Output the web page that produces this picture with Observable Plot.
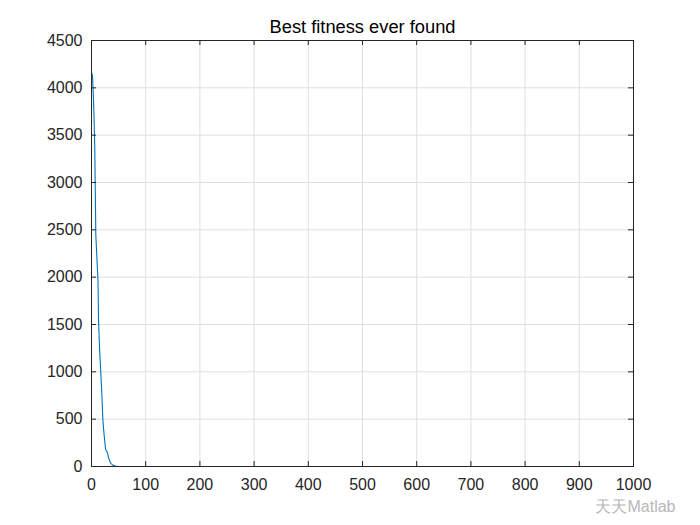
<!DOCTYPE html>
<html>
<head>
<meta charset="utf-8">
<script src="https://cdn.jsdelivr.net/npm/d3@7"></script>
<script src="https://cdn.jsdelivr.net/npm/@observablehq/plot@0.6"></script>
<style>
  html, body { margin: 0; padding: 0; background: #fff; }
  #chart { width: 700px; height: 525px; }
</style>
</head>
<body>
<div id="chart"></div>
<script>
const titleText = "Best fitness ever found";
const watermark = "天天Matlab";
const generations = [1, 2, 4, 6, 7, 8, 10, 12, 13, 15, 17, 19, 21, 23, 26, 29, 33, 36, 40, 44, 48, 1000];
const bestFitness = [4150, 4110, 3830, 3380, 2900, 2440, 2200, 1960, 1540, 1230, 1010, 780, 490, 350, 180, 150, 65, 30, 12, 5, 0, 0];
const xTicks = [0, 100, 200, 300, 400, 500, 600, 700, 800, 900, 1000];
const yTicks = [0, 500, 1000, 1500, 2000, 2500, 3000, 3500, 4000, 4500];

const data = generations.map((g, i) => ({g, v: bestFitness[i]}));
const axisColor = "#262626";
const W = 700, H = 525, mL = 91, mR = 67, mT = 40, mB = 59;
const fw = W - mL - mR, fh = H - mT - mB, tl = 5;

const chart = Plot.plot({
  width: W,
  height: H,
  marginLeft: mL,
  marginRight: mR,
  marginTop: mT,
  marginBottom: mB,
  style: {fontFamily: "'Liberation Sans', Arial, sans-serif", fontSize: "16px", color: axisColor, background: "#fff"},
  x: {domain: [0, 1000]},
  y: {domain: [0, 4500]},
  marks: [
    Plot.gridX(xTicks, {stroke: "#dfdfdf", strokeOpacity: 1}),
    Plot.gridY(yTicks, {stroke: "#dfdfdf", strokeOpacity: 1}),
    Plot.line(data, {x: "g", y: "v", stroke: "#0072BD", strokeWidth: 1.1}),
    Plot.frame({stroke: axisColor}),
    Plot.tickX(xTicks, {x: d => d, stroke: axisColor, insetTop: fh - tl}),
    Plot.tickX(xTicks, {x: d => d, stroke: axisColor, insetBottom: fh - tl}),
    Plot.tickY(yTicks, {y: d => d, stroke: axisColor, insetRight: fw - tl}),
    Plot.tickY(yTicks, {y: d => d, stroke: axisColor, insetLeft: fw - tl}),
    Plot.axisX(xTicks, {tickSize: 0, tickPadding: 12, fontSize: 16, label: null, fill: axisColor, tickFormat: d => String(d)}),
    Plot.axisY(yTicks, {tickSize: 0, tickPadding: 9, fontSize: 16, label: null, fill: axisColor, tickFormat: d => String(d)}),
    Plot.text([titleText], {frameAnchor: "top", dy: -21, fontSize: 18.3, fill: "#000"}),
    Plot.text([watermark], {frameAnchor: "bottom-right", dx: 42, dy: 45, fontSize: 16, fill: "#b8b8b8", stroke: "#fff", strokeWidth: 2, paintOrder: "stroke"})
  ]
});
document.getElementById("chart").appendChild(chart);
</script>
</body>
</html>
